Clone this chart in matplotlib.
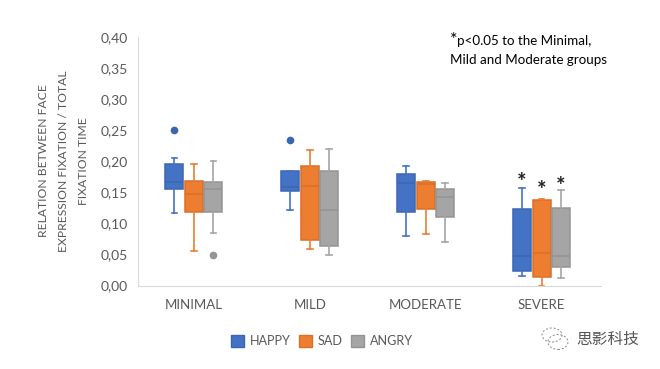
import matplotlib
matplotlib.use('Agg')
import matplotlib.pyplot as plt
from matplotlib.patches import Patch, Ellipse

plt.rcParams['font.family'] = ['Lato', 'DejaVu Sans']

groups = ['MINIMAL', 'MILD', 'MODERATE', 'SEVERE']
series = ['HAPPY', 'SAD', 'ANGRY']
colors = ['#4472C4', '#ED7D31', '#A5A5A5']
edges = ['#3A66B0', '#D96F28', '#949494']

# one list per series, one value per group
happy_lo = [0.117, 0.121, 0.079, 0.015]
happy_q1 = [0.156, 0.152, 0.119, 0.024]
happy_med = [0.167, 0.158, 0.165, 0.047]
happy_q3 = [0.195, 0.184, 0.180, 0.123]
happy_hi = [0.206, 0.184, 0.192, 0.157]
happy_out = [[0.251], [0.234], [], []]

sad_lo = [0.056, 0.058, 0.083, 0.000]
sad_q1 = [0.118, 0.074, 0.123, 0.014]
sad_med = [0.148, 0.160, 0.163, 0.053]
sad_q3 = [0.169, 0.192, 0.167, 0.137]
sad_hi = [0.195, 0.218, 0.169, 0.139]
sad_out = [[], [], [], []]

angry_lo = [0.085, 0.049, 0.070, 0.012]
angry_q1 = [0.119, 0.064, 0.111, 0.029]
angry_med = [0.156, 0.121, 0.142, 0.047]
angry_q3 = [0.166, 0.184, 0.156, 0.124]
angry_hi = [0.201, 0.220, 0.165, 0.154]
angry_out = [[0.049], [], [], []]

stars_y = [0.166, 0.153, 0.160]

all_series = [
    (happy_lo, happy_q1, happy_med, happy_q3, happy_hi, happy_out),
    (sad_lo, sad_q1, sad_med, sad_q3, sad_hi, sad_out),
    (angry_lo, angry_q1, angry_med, angry_q3, angry_hi, angry_out),
]

fig = plt.figure(figsize=(6.6, 3.69), dpi=100)
ax = fig.add_axes([137.5 / 660, 1 - 285.5 / 369, (601 - 137.5) / 660, (285.5 - 37) / 369])

offset = 0.168
for s, vals in enumerate(all_series):
    lo, q1, med, q3, hi, out = vals
    stats = []
    for g in range(len(groups)):
        stats.append({'whislo': lo[g], 'q1': q1[g], 'med': med[g], 'q3': q3[g],
                      'whishi': hi[g], 'fliers': out[g]})
    pos = [g + (s - 1) * offset for g in range(len(groups))]
    ax.bxp(stats, positions=pos, widths=0.155, patch_artist=True, manage_ticks=False,
           boxprops=dict(facecolor=colors[s], edgecolor=edges[s], linewidth=1.1),
           medianprops=dict(color=edges[s], linewidth=1.1),
           whiskerprops=dict(color=colors[s], linewidth=1.2),
           capprops=dict(color=colors[s], linewidth=1.2),
           capwidths=0.05,
           flierprops=dict(marker='o', markersize=4.5, markerfacecolor=edges[s],
                           markeredgecolor=edges[s]))
    ax.text(3 + (s - 1) * offset, stars_y[s], '*', ha='center', va='center',
            fontsize=16, fontweight='bold', color='#222222')

ax.set_xlim(-0.487, 3.513)
ax.set_ylim(0, 0.40)
ax.set_xticks(range(len(groups)))
ax.set_xticklabels(groups)
yticks = [0, 0.05, 0.10, 0.15, 0.20, 0.25, 0.30, 0.35, 0.40]
ax.set_yticks(yticks)
ax.set_yticklabels([('%.2f' % t).replace('.', ',') for t in yticks])
ax.tick_params(axis='both', length=0, labelcolor='#595959')
ax.tick_params(axis='x', pad=9.5, labelsize=9.5)
ax.tick_params(axis='y', pad=7, labelsize=10)
for side in ['top', 'right']:
    ax.spines[side].set_visible(False)
for side in ['left', 'bottom']:
    ax.spines[side].set_color('#D9D9D9')

fig.text(63.5 / 660, 1 - 161 / 369, 'RELATION BETWEEN FACE\nEXPRESSION FIXATION / TOTAL\nFIXATION TIME',
         rotation=90, ha='center', va='center', ma='center', fontsize=8.7, color='#595959',
         linespacing=2.0)

fig.text(450 / 660, 1 - 40 / 369, '*', fontsize=13, color='black', va='center')
fig.text(457 / 660, 1 - 41 / 369, 'p<0.05 to the Minimal,', fontsize=9.6, color='black', va='center')
fig.text(450 / 660, 1 - 60 / 369, 'Mild and Moderate groups', fontsize=9.6, color='black', va='center')

handles = [Patch(facecolor=colors[i], edgecolor=edges[i], label=series[i]) for i in range(3)]
fig.legend(handles=handles, loc='center left', bbox_to_anchor=(231 / 660, 1 - 341 / 369), ncol=3,
           frameon=False, fontsize=9.1, labelcolor='#595959', handlelength=1.05, handleheight=1.05,
           handletextpad=0.45, columnspacing=0.65, borderpad=0, borderaxespad=0)

# watermark
fig.add_artist(Ellipse((552 / 660, 1 - 335 / 369), 20 / 660, 14 / 369, fill=False, ec='#888888',
                       lw=0.7, ls=(0, (2, 2)), transform=fig.transFigure))
fig.add_artist(Ellipse((558 / 660, 1 - 342 / 369), 20 / 660, 15 / 369, fill=False, ec='#888888',
                       lw=0.7, ls=(0, (2, 2)), transform=fig.transFigure))
fig.text(576 / 660, 1 - 339 / 369, '思影科技', fontsize=11.3, color='#555555', va='center',
         family=['Noto Sans CJK SC', 'DejaVu Sans'])

fig.savefig('out.png', dpi=100)
